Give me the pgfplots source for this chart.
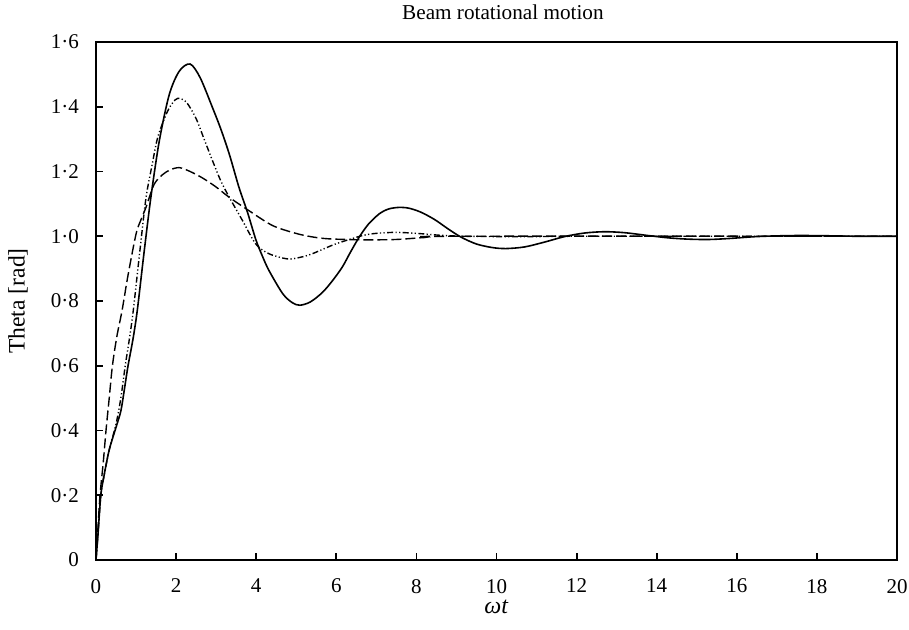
\documentclass[border=0pt]{standalone}
\usepackage{fontspec}
\setmainfont{Liberation Serif}
\usepackage{pgfplots}
\pgfplotsset{compat=1.18}
\begin{document}
\fontsize{10}{12}\selectfont
\begin{tikzpicture}
\useasboundingbox (-48pt,-34.5pt) rectangle (406.5pt,280pt);
\begin{axis}[
  at={(0,0)}, anchor=south west,
  scale only axis, width=400.5pt, height=259pt,
  xmin=0, xmax=20, ymin=0, ymax=1.6,
  xtick={0,2,4,6,8,10,12,14,16,18,20},
  ytick={0,0.2,0.4,0.6,0.8,1.0,1.2,1.4,1.6},
  yticklabels={0,0·2,0·4,0·6,0·8,1·0,1·2,1·4,1·6},
  tick align=inside, xtick pos=bottom, ytick pos=left,
  major tick length=3.5pt,
  axis line style={line width=1pt},
  every tick/.style={line width=0.9pt, black},
  tick label style={font=\fontsize{10.5}{12}\selectfont},
  xticklabel style={yshift=-6pt},
  yticklabel style={xshift=-5pt},
  /pgf/number format/assume math mode=true,
  every axis title shift=0pt,
  title={Beam rotational motion},
  title style={at={(axis description cs:0.508,1.058)}, anchor=center, yshift=0pt, inner sep=0pt, font=\fontsize{10.6}{12}\selectfont},
  xlabel={\textit{ωt}},
  xlabel style={at={(axis description cs:0.5,-0.0907)}, anchor=center, inner sep=0pt, font=\fontsize{12}{14}\selectfont},
  ylabel={Theta [rad]},
  ylabel style={at={(axis description cs:-0.0974,0.5)}, anchor=center, inner sep=0pt, font=\fontsize{11.8}{14}\selectfont},
]
% solid
\addplot[black, line width=0.8pt, smooth, tension=0.5] coordinates {
(0,0) (0.05,0.08) (0.12,0.2) (0.2,0.26) (0.33,0.34) (0.5,0.41) (0.62,0.46)
(0.7,0.52) (0.8,0.60) (0.92,0.68) (1.03,0.77) (1.2,0.95) (1.37,1.12)
(1.58,1.294) (1.83,1.438) (2.08,1.51) (2.35,1.532) (2.6,1.49)
(2.91,1.397) (3.12,1.33) (3.33,1.253) (3.57,1.151) (3.78,1.075)
(3.99,0.99) (4.15,0.94) (4.32,0.894) (4.66,0.823) (4.9,0.795)
(5.09,0.787) (5.35,0.797) (5.65,0.826) (5.9,0.862) (6.15,0.905)
(6.35,0.95) (6.57,0.997) (6.8,1.037) (7.07,1.069) (7.3,1.084)
(7.55,1.089) (7.8,1.087) (8.1,1.075) (8.45,1.052) (8.8,1.022)
(9.12,0.997) (9.5,0.976) (9.9,0.965) (10.24,0.962) (10.7,0.967)
(11.2,0.982) (11.7,0.999) (12.2,1.01) (12.7,1.014) (13.2,1.011)
(13.8,1.002) (14.3,0.995) (14.8,0.991) (15.3,0.99) (15.8,0.993)
(16.5,0.999) (17.3,1.002) (18.0,1.002) (19,1.0) (20,1.0)
};
% dash-dot-dot
\addplot[black, line width=0.7pt, smooth, tension=0.5,
  dash pattern=on 3pt off 1.2pt on 0.6pt off 1.2pt on 0.6pt off 1.2pt] coordinates {
(0,0) (0.05,0.08) (0.12,0.2) (0.2,0.26) (0.33,0.34) (0.5,0.42) (0.62,0.50)
(0.73,0.60) (0.83,0.68) (0.93,0.77) (1.1,0.96) (1.25,1.12) (1.4,1.22)
(1.54,1.305) (1.75,1.376) (1.9,1.41) (2.04,1.426) (2.25,1.415)
(2.49,1.366) (2.7,1.30) (2.91,1.233) (3.12,1.17) (3.33,1.12)
(3.66,1.048) (3.99,0.976) (4.32,0.946) (4.78,0.93) (5.1,0.935)
(5.4,0.946) (5.98,0.976) (6.65,1.002) (7.0,1.009) (7.48,1.012)
(8.0,1.009) (8.6,1.003) (9.2,1.0) (10,0.999) (11,0.999) (12,1.0)
(14,1.0) (20,1.0)
};
% dashed
\addplot[black, line width=0.7pt, smooth, tension=0.5,
  dash pattern=on 5pt off 2pt] coordinates {
(0,0) (0.05,0.1) (0.1,0.2) (0.18,0.3) (0.25,0.4) (0.33,0.5) (0.41,0.6)
(0.52,0.69) (0.65,0.77) (0.8,0.88) (1.0,1.007) (1.12,1.05) (1.25,1.09)
(1.45,1.16) (1.66,1.19) (1.85,1.205) (2.08,1.212) (2.35,1.20)
(2.66,1.18) (3.0,1.152) (3.33,1.12) (3.82,1.079) (4.41,1.033)
(4.99,1.009) (5.4,0.998) (5.82,0.992) (6.65,0.989) (7.48,0.99)
(8.2,0.996) (9,1.0) (20,1.0)
};
\end{axis}
\end{tikzpicture}
\end{document}
